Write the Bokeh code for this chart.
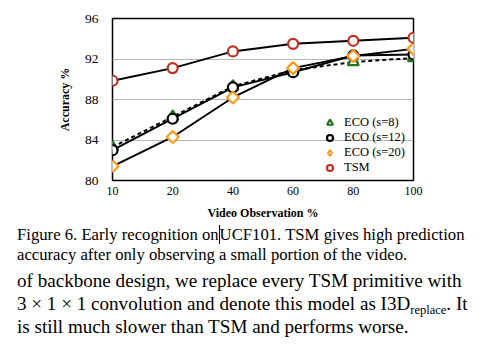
import math
from bokeh.plotting import figure
from bokeh.models import Legend, LegendItem, FixedTicker, Div, Range1d
from bokeh.layouts import column
from bokeh.embed import file_html
from bokeh.resources import INLINE

# ---- data ----
obs_labels = ["10", "20", "40", "60", "80", "100"]
eco_s8 = [83.3, 86.3, 89.3, 90.9, 91.7, 92.1]
eco_s12 = [83.0, 86.1, 89.2, 90.7, 92.35, 92.45]
eco_s20 = [81.4, 84.3, 88.2, 91.1, 92.3, 93.0]
tsm = [89.85, 91.1, 92.75, 93.5, 93.8, 94.1]
y_ticks = [80, 84, 88, 92, 96]
series_names = ["ECO (s=8)", "ECO (s=12)", "ECO (s=20)", "TSM"]

SERIF = "Liberation Serif"
xs = list(range(len(obs_labels)))

p = figure(width=485, height=222, output_backend="svg", toolbar_location=None,
           x_range=Range1d(0, len(obs_labels) - 1), y_range=Range1d(y_ticks[0], y_ticks[-1]),
           min_border_left=112, min_border_right=72, min_border_top=18, min_border_bottom=42)
p.background_fill_color = "white"
p.border_fill_color = "white"
p.outline_line_color = "black"
p.outline_line_width = 1.5
p.outline_line_alpha = 1

p.xaxis.ticker = FixedTicker(ticks=xs)
p.xaxis.major_label_overrides = {i: s for i, s in enumerate(obs_labels)}
p.yaxis.ticker = FixedTicker(ticks=y_ticks)
for ax in (p.xaxis[0], p.yaxis[0]):
    ax.axis_line_color = None
    ax.major_tick_out = 0
    ax.major_tick_in = 0
    ax.minor_tick_out = 0
    ax.minor_tick_in = 0
    ax.major_label_text_font = SERIF
    ax.major_label_text_color = "black"
    ax.axis_label_text_font = SERIF
    ax.axis_label_text_font_style = "bold"
    ax.axis_label_text_color = "black"
    ax.axis_label_text_font_size = "12px"
p.yaxis.major_label_text_font_size = "13.5px"
p.yaxis.major_label_standoff = 14
p.yaxis.axis_label = "Accuracy %"
p.yaxis.axis_label_standoff = 10
p.xaxis.major_label_text_font_size = "12px"
p.xaxis.major_label_standoff = 6
p.xaxis.axis_label = "Video Observation %"
p.xaxis.axis_label_standoff = 8

p.xgrid.grid_line_color = None
p.ygrid.grid_line_color = "#b5b5b5"
p.ygrid.grid_line_width = 1

# lines
p.line(xs, eco_s8, line_color="black", line_width=2, line_dash="4 3")
p.line(xs, eco_s12, line_color="black", line_width=2)
p.line(xs, eco_s20, line_color="black", line_width=2)
p.line(xs, tsm, line_color="black", line_width=2)

# markers
GREEN, ORANGE, RED = "#1b7a1b", "#ff9a1a", "#c0301e"
r8 = p.scatter(xs, eco_s8, marker="triangle", size=11, line_color=GREEN,
               line_width=2.2, fill_color="white")
r12 = p.scatter(xs, eco_s12, marker="circle", size=10, line_color="black",
                line_width=2.2, fill_color="white")
# diamond swatch used by the legend; it sits fully under the rotated squares below
r20_key = p.scatter(xs, eco_s20, marker="diamond", size=10.5, line_color=ORANGE,
                    line_width=2, fill_color="white")
r20 = p.scatter(xs, eco_s20, marker="square", angle=math.pi / 4, size=8.5,
                line_color=ORANGE, line_width=2.2, fill_color="white")
rt = p.scatter(xs, tsm, marker="circle", size=10, line_color=RED,
               line_width=2.2, fill_color="white")

legend = Legend(items=[LegendItem(label=n, renderers=[r]) for n, r in
                       zip(series_names, [r8, r12, r20_key, rt])],
                location=(210, 5))
legend.label_text_font = SERIF
legend.label_text_font_size = "12.5px"
legend.label_text_color = "black"
legend.glyph_width = 15
legend.glyph_height = 15
legend.label_height = 15
legend.label_standoff = 7
legend.spacing = -1
legend.padding = 0
legend.margin = 0
legend.border_line_alpha = 0
legend.background_fill_alpha = 0
p.add_layout(legend)

caption = Div(width=485, height=135, margin=(0, 0, 0, 0), text=(
    "<div style=\"font-family:'Liberation Serif',serif;color:black;padding-left:17px;width:468px;\">"
    "<div style='font-size:16.7px;line-height:20px;padding-top:3px;white-space:nowrap;'>"
    "Figure 6. Early recognition on<span style='border-left:1px solid black;'></span>UCF101. TSM gives high prediction<br>"
    "accuracy after only observing a small portion of the video.</div>"
    "<div style='font-size:19.1px;line-height:23px;padding-top:4px;white-space:nowrap;'>"
    "of backbone design, we replace every TSM primitive with<br>"
    "3 &times; 1 &times; 1 convolution and denote this model as I3D"
    "<span style='font-size:12.5px;line-height:0;position:relative;top:4px;'>replace</span>. It<br>"
    "is still much slower than TSM and performs worse.</div>"
    "</div>"))

layout = column(p, caption, spacing=0)
open("out.html", "w").write(file_html(layout, INLINE))
